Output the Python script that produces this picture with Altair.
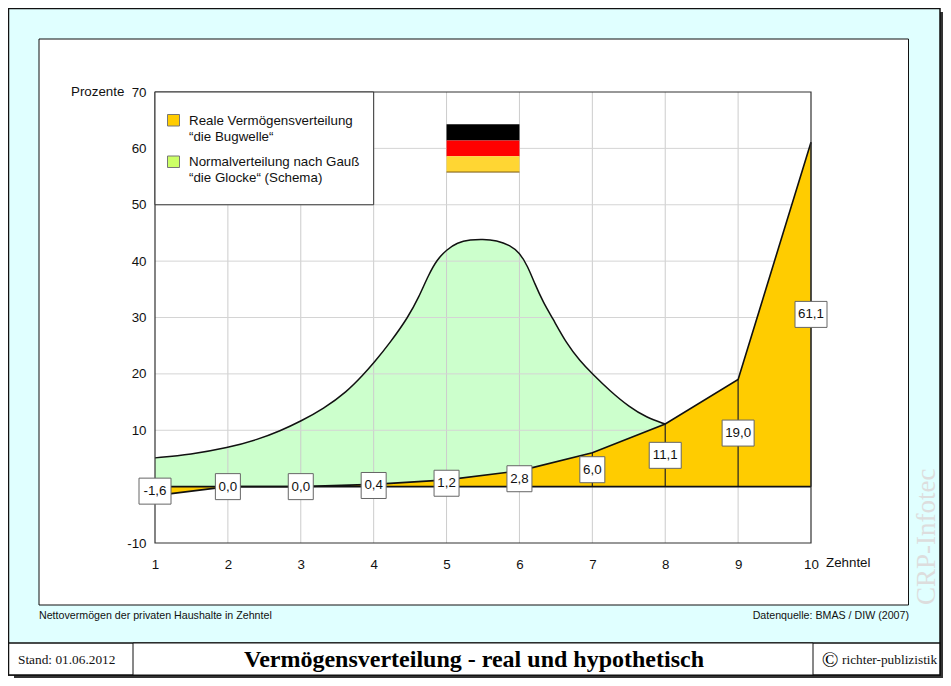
import altair as alt
import pandas as pd

deciles = [1, 2, 3, 4, 5, 6, 7, 8, 9, 10]
real_values = [-1.6, 0.0, 0.0, 0.4, 1.2, 2.8, 6.0, 11.1, 19.0, 61.1]
value_labels = ["-1,6", "0,0", "0,0", "0,4", "1,2", "2,8", "6,0", "11,1", "19,0", "61,1"]

gauss_x = [1, 1.49, 2, 2.4, 2.72, 3, 3.31, 3.63, 3.86, 4, 4.23, 4.47, 4.62, 4.75, 4.87, 5, 5.145, 5.33, 5.49,
           5.69, 5.87, 6, 6.11, 6.21, 6.33, 6.45, 6.65, 6.83, 7, 7.24, 7.51, 7.74, 8]
gauss_y = [5.1, 5.7, 6.9, 8.3, 9.9, 11.6, 13.8, 16.8, 19.9, 21.9, 25.6, 30.0, 33.6, 37.5, 40.3, 42.0, 43.3, 43.8, 43.9,
           43.7, 42.8, 41.5, 39.2, 36.0, 32.6, 30.0, 25.3, 22.3, 20.0, 17.0, 14.1, 12.3, 11.1]

x_ticks = deciles
y_ticks = [-10, 0, 10, 20, 30, 40, 50, 60, 70]
grid_x = [2, 3, 4, 5, 6, 7, 8, 9]
grid_y = [10, 20, 30, 40, 50, 60]

flag_bands = [(64.3, 61.4, "#000000"), (61.4, 58.6, "#FF0000"), (58.6, 55.8, "#FFD633")]

PLOT_W, PLOT_H = 656, 451
SANS = "Liberation Sans"
SERIF = "Liberation Serif"
FS = 13.33

xs = alt.Scale(domain=[1, 10], nice=False, zero=False)
ys = alt.Scale(domain=[-10, 70], nice=False, zero=False)


def px(v):
    return v - 155


def py(v):
    return v - 92


def box(x0, x1, y0, y1, fill="transparent", stroke=None, sw=1.0):
    kw = {"fill": fill}
    if stroke:
        kw.update(stroke=stroke, strokeWidth=sw)
    return alt.Chart().mark_rect(**kw).encode(
        x=alt.value(px(x0)), x2=alt.value(px(x1)), y=alt.value(py(y0)), y2=alt.value(py(y1))
    )


def label(s, x, y, size=FS, font=SANS, align="left", color="#111111", weight="normal", angle=0):
    return alt.Chart().mark_text(
        text=s, font=font, fontSize=size, align=align, baseline="middle",
        color=color, fontWeight=weight, angle=angle,
    ).encode(x=alt.value(px(x)), y=alt.value(py(y)))


real = pd.DataFrame({"x": deciles, "y": real_values, "mid": [v / 2 for v in real_values], "zero": [0] * 10, "t": value_labels})
gauss = pd.DataFrame({"x": gauss_x, "y": gauss_y, "zero": [0] * len(gauss_x)})
gx = pd.DataFrame({"x": grid_x})
gy = pd.DataFrame({"y": grid_y})

X = alt.X("x:Q", scale=xs, title=None)
Y = alt.Y("y:Q", scale=ys, title=None)

layers = [
    # page furniture
    box(940, 943, 12, 678, fill="#333333"),
    box(14, 943, 675, 678, fill="#333333"),
    box(8.5, 940, 8.5, 675, fill="#E0FFFF", stroke="#111111", sw=1.5),
    box(39, 908.5, 39, 605, fill="#FFFFFF", stroke="#111111", sw=1),
    box(8.5, 940, 643, 675, fill="#FFFFFF", stroke="#111111", sw=1.5),
    box(133, 813, 643, 675, fill="#FFFFFF", stroke="#111111", sw=1),
    # green bell
    alt.Chart(gauss).mark_area(color="#CCFFCC", opacity=1, interpolate="basis").encode(
        x=alt.X("x:Q", scale=xs, title=None,
                axis=alt.Axis(values=x_ticks, format="d", grid=False, ticks=False, domain=False, labelFontSize=FS,
                              labelFont=SANS, labelColor="#111111", labelPadding=14, labelAngle=0,
                              labelFlush=False, labelOverlap=False, zindex=1)),
        y=alt.Y("y:Q", scale=ys, title=None,
                axis=alt.Axis(values=y_ticks, grid=False, ticks=False, domain=False, labelFontSize=FS,
                              labelFont=SANS, labelColor="#111111", labelPadding=9, labelFlush=False,
                              labelOverlap=False, zindex=1,
                              labelExpr="datum.value === 0 ? '' : datum.value")),
        y2="zero:Q",
    ),
    # grid
    alt.Chart(gx).mark_rule(color="#CCCCCC", strokeWidth=1).encode(x=X, y=alt.YValue(0), y2=alt.Y2Value(PLOT_H)),
    alt.Chart(gy).mark_rule(color="#D4D4D4", strokeWidth=1).encode(y=Y, x=alt.XValue(0), x2=alt.X2Value(PLOT_W)),
    # orange wave
    alt.Chart(real).mark_area(color="#FFCC00", opacity=1).encode(x=X, y=Y, y2="zero:Q"),
    alt.Chart(real).mark_rule(color="#222222", strokeWidth=1.2).encode(x=X, y=Y, y2="zero:Q"),
    alt.Chart(gauss).mark_line(color="#111111", strokeWidth=1.5, interpolate="basis").encode(x=X, y=Y),
    alt.Chart(real).mark_line(color="#111111", strokeWidth=1.6).encode(x=X, y=Y),
    alt.Chart(real).mark_line(color="#111111", strokeWidth=1.6).encode(x=X, y=alt.Y("zero:Q", scale=ys, title=None)),
    # plot border
    box(155, 811, 92, 543, stroke="#333333", sw=1.2),
    # legend
    alt.Chart(pd.DataFrame({"x": [1], "x2": [4], "y": [70], "y2": [50]})).mark_rect(
        fill="#FFFFFF", stroke="#333333", strokeWidth=1
    ).encode(x=X, x2="x2:Q", y=Y, y2="y2:Q"),
    box(167.5, 179.5, 114.5, 126, fill="#FFCC00", stroke="#777777", sw=1),
    box(167.5, 179.5, 156, 167.5, fill="#CCFF66", stroke="#777777", sw=1),
    label("Reale Vermögensverteilung", 189, 120.5),
    label("“die Bugwelle“", 189, 136.5),
    label("Normalverteilung nach Gauß", 189, 161.5),
    label("“die Glocke“ (Schema)", 189, 177.5),
]

# flag
for top, bottom, colour in flag_bands:
    layers.append(
        alt.Chart(pd.DataFrame({"x": [5], "x2": [6], "y": [top], "y2": [bottom]})).mark_rect(fill=colour).encode(
            x=X, x2="x2:Q", y=Y, y2="y2:Q"
        )
    )
layers.append(
    alt.Chart(pd.DataFrame({"x": [5], "x2": [6], "y": [55.8]})).mark_rule(color="#7A5A10", strokeWidth=1).encode(x=X, x2="x2:Q", y=Y)
)

# value boxes
narrow = real[real["t"].str.len() == 3]
wide = real[real["t"].str.len() == 4]
for frame, w in ((narrow, 25), (wide, 32)):
    layers.append(
        alt.Chart(frame).mark_rect(width=w, height=26, fill="#FFFFFF", stroke="#666666", strokeWidth=1).encode(
            x=X, y=alt.Y("mid:Q", scale=ys, title=None)
        )
    )
layers.append(
    alt.Chart(real).mark_text(font=SANS, fontSize=FS, color="#111111", baseline="middle", align="center").encode(
        x=X, y=alt.Y("mid:Q", scale=ys, title=None), text="t:N"
    )
)

layers += [
    label("Prozente", 71, 91.5),
    label("Zehntel", 826, 563),
    label("Nettovermögen der privaten Haushalte in Zehntel", 39, 616, size=10.67),
    label("Datenquelle: BMAS / DIW (2007)", 909, 616, size=10.67, align="right"),
    label("Stand: 01.06.2012", 18, 660, size=FS, font=SERIF),
    label("Vermögensverteilung - real und hypothetisch", 474, 660, size=24, font=SERIF, align="center", weight="bold", color="#000000"),
    label("©", 830, 660, size=22, font=SERIF, align="center", color="#000000"),
    label("richter-publizistik", 842, 660, size=FS, font=SERIF),
    label("CRP-Infotec", 927, 605, size=27, font=SERIF, color="#DDDDDD", angle=270),
]

chart = alt.layer(*layers).properties(
    width=PLOT_W,
    height=PLOT_H,
    padding={"left": 147, "top": 84, "right": 132, "bottom": 135},
    autosize=alt.AutoSizeParams(type="none"),
    background="#FFFFFF",
).configure_view(stroke=None)

chart.save("out.html", embed_options={"renderer": "svg", "actions": False})
